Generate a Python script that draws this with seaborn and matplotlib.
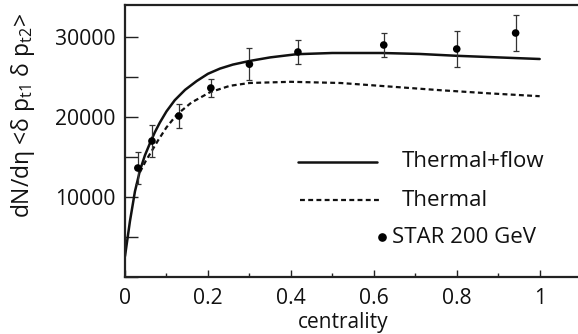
import numpy as np
import pandas as pd
import seaborn as sns
import matplotlib
matplotlib.use("Agg")
import matplotlib.pyplot as plt
from matplotlib.lines import Line2D
from matplotlib.ticker import MultipleLocator

# ---- data ----
flow_x = [0, 0.012, 0.024, 0.036, 0.048, 0.06, 0.072, 0.084, 0.10, 0.12, 0.145,
          0.173, 0.20, 0.229, 0.26, 0.30, 0.35, 0.414, 0.5, 0.62, 0.711, 0.8, 0.9, 1.0]
flow_y = [2600, 7000, 10700, 13300, 15200, 16700, 18100, 19300, 20700, 22100, 23400,
          24500, 25400, 26050, 26550, 27000, 27450, 27850, 28000, 28000, 27880, 27650, 27450, 27250]

thermal_x = [0.036, 0.05, 0.065, 0.08, 0.10, 0.125, 0.16, 0.205, 0.253, 0.30, 0.40,
             0.52, 0.64, 0.76, 0.88, 1.0]
thermal_y = [13100, 14500, 15800, 17100, 18700, 20300, 21800, 23100, 23900, 24250, 24400,
             24250, 23800, 23350, 22950, 22600]

star_x = [0.031, 0.065, 0.13, 0.207, 0.30, 0.417, 0.624, 0.80, 0.942]
star_y = [13625, 17000, 20125, 23625, 26600, 28125, 29000, 28500, 30500]
star_err = [2000, 2000, 1500, 1100, 2000, 1500, 1500, 2250, 2250]

x_ticks = [0, 0.2, 0.4, 0.6, 0.8, 1]
x_ticklabels = ["0", "0.2", "0.4", "0.6", "0.8", "1"]
y_ticks = [10000, 20000, 30000]
y_ticklabels = ["10000", "20000", "30000"]
labels = ["Thermal+flow", "Thermal", "STAR 200 GeV"]

# ---- style ----
sns.set_theme(style="white")
plt.rcParams['font.family'] = ['Open Sans', 'DejaVu Sans']
plt.rcParams['mathtext.fontset'] = 'custom'
plt.rcParams['mathtext.rm'] = 'Open Sans'
plt.rcParams['mathtext.it'] = 'Open Sans'
plt.rcParams['mathtext.default'] = 'regular'

INK = "#111111"
fig = plt.figure(figsize=(5.78, 3.34), dpi=100)
ax = fig.add_axes([125/578, 1-277/334, 452/578, 272/334])

flow_df = pd.DataFrame({"x": flow_x, "y": flow_y})
therm_df = pd.DataFrame({"x": thermal_x, "y": thermal_y})
star_df = pd.DataFrame({"x": star_x, "y": star_y, "e": star_err})

DASH = (0, (2.2, 1.5))
sns.lineplot(data=flow_df, x="x", y="y", ax=ax, color=INK, lw=1.8, sort=False)
sns.lineplot(data=therm_df, x="x", y="y", ax=ax, color=INK, lw=1.6, sort=False,
             linestyle=DASH)
ax.errorbar(star_df["x"], star_df["y"], yerr=star_df["e"], fmt="none",
            ecolor="#333333", elinewidth=0.9, capsize=2.5, capthick=0.9)
sns.scatterplot(data=star_df, x="x", y="y", ax=ax, color="#000000", s=30,
                edgecolor="none", zorder=5)

ax.set_xlim(0, 1.09)
ax.set_ylim(0, 34000)
ax.set_xticks(x_ticks)
ax.set_xticklabels(x_ticklabels)
ax.set_yticks(y_ticks)
ax.set_yticklabels(y_ticklabels)
ax.xaxis.set_minor_locator(MultipleLocator(0.1))
ax.yaxis.set_minor_locator(MultipleLocator(5000))

TS = 15.2
ax.tick_params(axis='x', which='major', direction='in', length=5, width=1.0,
               labelsize=TS, pad=8, color="#222222", labelcolor=INK, bottom=True, top=False)
ax.tick_params(axis='x', which='minor', direction='in', length=3, width=1.0,
               color="#222222", bottom=True, top=False)
ax.tick_params(axis='y', which='major', direction='in', length=9.4, width=1.0,
               labelsize=TS, pad=7, color="#222222", labelcolor=INK, left=True, right=False)
ax.tick_params(axis='y', which='minor', direction='in', length=9.4, width=1.0,
               color="#222222", left=True, right=False)

for s in ['left', 'bottom', 'top']:
    ax.spines[s].set_visible(True)
    ax.spines[s].set_linewidth(1.6)
    ax.spines[s].set_color("#222222")
ax.spines['right'].set_visible(False)

ax.set_xlabel("centrality", fontsize=15, color=INK)
ax.xaxis.set_label_coords((343-125)/452, (277-333)/272, transform=ax.transAxes)
ax.xaxis.label.set_va('bottom')
ax.set_ylabel(r"dN/dη <δ p$_{t1}$ δ p$_{t2}$>", fontsize=16.5, color=INK)
ax.yaxis.set_label_coords((37-125)/452, (277-115)/272)

# legend (manual layout)
ta = ax.transAxes
ax.add_line(Line2D([0.383, 0.558], [0.423, 0.423], transform=ta, color=INK, lw=1.8))
ax.text(0.613, 0.423, labels[0], transform=ta, fontsize=16, va='center', ha='left', color=INK)
ax.add_line(Line2D([0.387, 0.566], [0.283, 0.283], transform=ta, color=INK, lw=1.6,
                   linestyle=DASH))
ax.text(0.613, 0.283, labels[1], transform=ta, fontsize=16, va='center', ha='left', color=INK)
ax.add_line(Line2D([0.569], [0.147], transform=ta, color="#000000", marker='o',
                   markersize=5.2, lw=0))
ax.text(0.591, 0.147, labels[2], transform=ta, fontsize=16, va='center', ha='left', color=INK)

fig.savefig("out.png", dpi=100)
